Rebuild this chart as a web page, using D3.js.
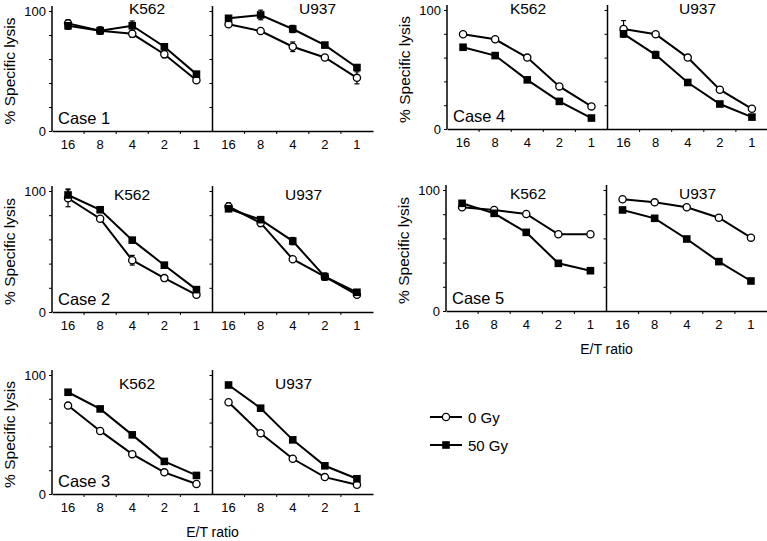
<!DOCTYPE html>
<html><head><meta charset="utf-8">
<script src="https://cdn.jsdelivr.net/npm/d3@7"></script>
<style>body{margin:0;background:#fff}svg{display:block;font-family:"Liberation Sans",Arial,Helvetica,sans-serif}</style>
</head><body><svg id="c" width="767" height="541"></svg>
<script>
const ratios = ["16","8","4","2","1"];
const cellLines = ["K562","U937"];
const caseNames = ["Case 1","Case 2","Case 3","Case 4","Case 5"];
const yTicks = [0,20,40,60,80,100];
const yTickLabels = ["0","","","","","100"];
const legendLabels = ["0 Gy","50 Gy"];
const xTitle = "E/T ratio";
const yTitle = "% Specific lysis";

// values per case: [K562, U937]
const case1_0Gy = [[89.7,83.6,81,64,42.3],[88.9,83.3,70.2,61.3,44.3]];
const case1_50Gy = [[87.7,83.6,87.7,70.2,47.4],[93.9,96.7,85,71.6,52.9]];
const case1_0Gy_err = [[3,3,3,3,2],[2,0,4,2,5]];
const case1_50Gy_err = [[3,3,4,2,2],[2,4,3,0,0]];

const case2_0Gy = [[94,77.1,42.8,28,14.2],[87.2,73.6,43.6,29.2,14.2]];
const case2_50Gy = [[96.7,84.5,59.4,38.7,18.5],[85.3,76.3,58.6,29.2,16.3]];
const case2_0Gy_err = [[7,0,4,2,0],[3,3,0,3,0]];
const case2_50Gy_err = [[5,0,2,0,0],[0,0,3,0,0]];

const case3_0Gy = [[74.3,53,33.5,18.2,8.4],[77.1,51.1,29.6,14.2,7.8]];
const case3_50Gy = [[85.5,71.5,49.7,27.4,15.6],[91.6,72.1,45.5,23.7,12.8]];
const case3_0Gy_err = [[0,0,0,0,0],[0,0,0,0,0]];
const case3_50Gy_err = [[0,0,0,0,0],[0,0,0,0,0]];

const case4_0Gy = [[79.6,75.4,60,35.8,19],[84.1,79.6,60,33,17]];
const case4_50Gy = [[68.7,61.7,41.3,23.2,9.2],[80,62.3,39.1,21,10]];
const case4_0Gy_err = [[0,0,0,0,0],[7,0,0,0,0]];
const case4_50Gy_err = [[0,0,0,0,0],[0,3,0,0,0]];

const case5_0Gy = [[85.7,83.5,80.2,63.4,63.4],[92.3,89.8,85.7,77.1,60.6]];
const case5_50Gy = [[89,80.7,65,39.4,33.3],[83.5,76.6,59.5,40.8,24.8]];
const case5_0Gy_err = [[0,0,0,0,0],[0,0,0,0,0]];
const case5_50Gy_err = [[0,0,0,0,0],[0,0,0,0,0]];

const caseData = [
  [case1_0Gy,case1_50Gy,case1_0Gy_err,case1_50Gy_err],
  [case2_0Gy,case2_50Gy,case2_0Gy_err,case2_50Gy_err],
  [case3_0Gy,case3_50Gy,case3_0Gy_err,case3_50Gy_err],
  [case4_0Gy,case4_50Gy,case4_0Gy_err,case4_50Gy_err],
  [case5_0Gy,case5_50Gy,case5_0Gy_err,case5_50Gy_err]
];

// layout (positions only)
const layout = [
  {x0:52, top:11, bot:131, tdx:[95,105], ty:14, xlab:false},
  {x0:52, top:191, bot:312, tdx:[80,91], ty:200, xlab:false},
  {x0:52, top:375, bot:494, tdx:[85,81], ty:389, xlab:true},
  {x0:447, top:10, bot:129, tdx:[81,90], ty:14, xlab:false},
  {x0:446, top:190, bot:311, tdx:[82,91], ty:199, xlab:true}
];
const panelW = 160.5;

const svg = d3.select("#c");

function marker(g, type, cx, cy){
  if(type===0){
    g.append("circle").attr("cx",cx).attr("cy",cy).attr("r",3.6)
      .attr("fill","#fff").attr("stroke","#000").attr("stroke-width",1.3);
  } else {
    g.append("rect").attr("x",cx-3.8).attr("y",cy-3.8).attr("width",7.6).attr("height",7.6)
      .attr("fill","#000");
  }
}

layout.forEach((L,ci)=>{
  const g = svg.append("g");
  const y = d3.scaleLinear().domain([0,100]).range([L.bot,L.top]);
  const [v0,v50,e0,e50] = caseData[ci];
  const series = [[v0,e0],[v50,e50]];

  cellLines.forEach((cl,j)=>{
    const px0 = L.x0 + j*panelW;
    const x = d3.scaleBand().domain(ratios).range([px0, px0+panelW]);
    const cx = r => x(r) + x.bandwidth()/2;

    // y axis (left axis for first, divider for second)
    const ya = d3.axisLeft(y).tickValues(yTicks).tickSize(3).tickSizeOuter(0)
      .tickFormat((d,i)=> j===0 ? yTickLabels[i] : "");
    const yg = g.append("g").attr("transform",`translate(${px0},0)`).call(ya);
    yg.select(".domain").remove();
    yg.selectAll("line").attr("stroke","#000").attr("stroke-width",1);
    yg.selectAll("text").attr("font-size",13).attr("fill","#000").attr("font-family","Liberation Sans, Arial, sans-serif");
    g.append("line").attr("x1",px0).attr("x2",px0).attr("y1",L.top-5).attr("y2",L.bot)
      .attr("stroke","#000").attr("stroke-width",1.5);

    // x axis
    const xa = d3.axisBottom(x).tickSize(0).tickPadding(9);
    const xg = g.append("g").attr("transform",`translate(0,${L.bot})`).call(xa);
    xg.select(".domain").attr("stroke","#000").attr("stroke-width",1.5);
    xg.selectAll("text").attr("font-size",13).attr("fill","#000").attr("font-family","Liberation Sans, Arial, sans-serif");
    ratios.slice(1).forEach(r=>{
      g.append("line").attr("x1",x(r)).attr("x2",x(r)).attr("y1",L.bot).attr("y2",L.bot+3)
        .attr("stroke","#000").attr("stroke-width",1);
    });

    // title
    g.append("text").attr("x",px0+L.tdx[j]).attr("y",L.ty).attr("text-anchor","middle")
      .attr("font-size",15.5).text(cl);

    // series
    series.forEach(([vals,errs],s)=>{
      const line = d3.line().x((d,i)=>cx(ratios[i])).y(d=>y(d));
      g.append("path").attr("d",line(vals[j])).attr("fill","none")
        .attr("stroke","#000").attr("stroke-width",2);
    });
    series.forEach(([vals,errs],s)=>{
      vals[j].forEach((v,i)=>{
        const e = errs[j][i];
        if(e>0){
          const xx = cx(ratios[i]);
          g.append("line").attr("x1",xx).attr("x2",xx).attr("y1",y(v+e)).attr("y2",y(v-e)).attr("stroke","#000").attr("stroke-width",1.2);
          [v+e,v-e].forEach(t=>g.append("line").attr("x1",xx-2.5).attr("x2",xx+2.5).attr("y1",y(t)).attr("y2",y(t)).attr("stroke","#000").attr("stroke-width",1.2));
        }
      });
    });
    series.forEach(([vals,errs],s)=>{
      vals[j].forEach((v,i)=> marker(g, s, cx(ratios[i]), y(v)));
    });
  });

  // case label
  g.append("text").attr("x",L.x0+6).attr("y",L.bot-7).attr("font-size",16.5).text(caseNames[ci]);
  // y title
  g.append("text").attr("transform",`translate(${L.x0-37},${(L.top+L.bot)/2}) rotate(-90)`)
    .attr("text-anchor","middle").attr("font-size",15.5).text(yTitle);
  if(L.xlab){
    g.append("text").attr("x",L.x0+panelW).attr("y",L.bot+43).attr("text-anchor","middle")
      .attr("font-size",14).text(xTitle);
  }
});

// legend
const lg = svg.append("g");
legendLabels.forEach((lab,s)=>{
  const ly = 417 + s*28;
  lg.append("line").attr("x1",430).attr("x2",462).attr("y1",ly).attr("y2",ly).attr("stroke","#000").attr("stroke-width",2);
  marker(lg, s, 446, ly);
  lg.append("text").attr("x",468).attr("y",ly+5.5).attr("font-size",15).text(lab);
});
</script></body></html>
